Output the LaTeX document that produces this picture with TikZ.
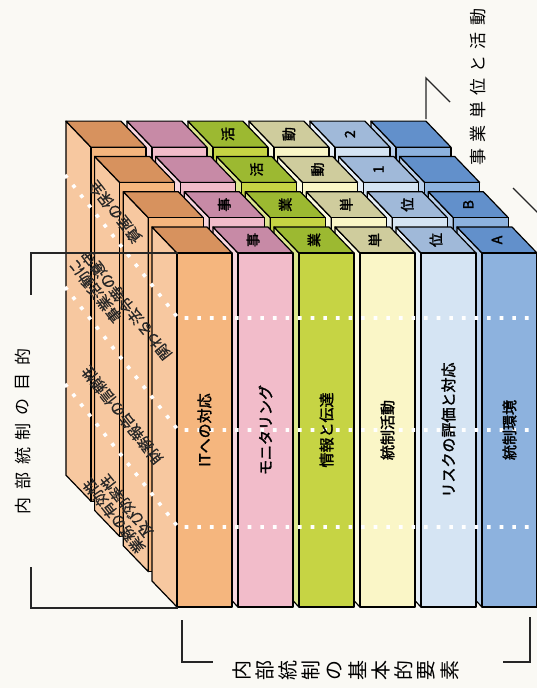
\documentclass[tikz,border=0pt]{standalone}
\usepackage{fontspec}
\setmainfont{Noto Sans CJK JP}
\newfontfamily\heavy{Noto Sans CJK JP}[FakeBold=2]
\newfontfamily\sidefont{Noto Sans CJK JP}[FakeBold=0.6]

\definecolor{paper}{HTML}{FAF9F4}
\definecolor{org}{HTML}{F5B67E}   \definecolor{orgtop}{HTML}{D7925E}   \definecolor{orgside}{HTML}{F7C8A0}
\definecolor{pnk}{HTML}{F2BCCA}   \definecolor{pnktop}{HTML}{C78AA6}   \definecolor{pnkside}{HTML}{F7D6DF}
\definecolor{grn}{HTML}{C6D444}   \definecolor{grntop}{HTML}{9CB931}   \definecolor{grnside}{HTML}{DDE68E}
\definecolor{yel}{HTML}{FAF6C7}   \definecolor{yeltop}{HTML}{CFCC9D}   \definecolor{yelside}{HTML}{FCFADF}
\definecolor{lbl}{HTML}{D5E4F3}   \definecolor{lbltop}{HTML}{A0B9D9}   \definecolor{lblside}{HTML}{E6EFF8}
\definecolor{blu}{HTML}{8DB2DE}   \definecolor{blutop}{HTML}{6290CB}   \definecolor{bluside}{HTML}{B9D0EC}

\tikzset{
  face/.style={draw=black, line width=1.2pt, line join=round},
  dots/.style={draw=white, line width=3.6pt, dash pattern=on 3.6pt off 9pt},
  bracket/.style={draw=black!85, line width=1.4pt},
  comp/.style={rotate=90, inner sep=0pt, font=\heavy\fontsize{15}{15}\selectfont},
  unit/.style={rotate=90, inner sep=0pt, font=\heavy\fontsize{14}{14}\selectfont},
  goal/.style={rotate=128.3, inner sep=0pt, text=black!85, font=\sidefont\fontsize{15}{16}\selectfont},
  headch/.style={rotate=90, inner sep=0pt, font=\fontsize{17}{17}\selectfont},
}

\begin{document}
\begin{tikzpicture}[x=1pt, y=-1pt]
  \fill[paper] (0,0) rectangle (537,688);
  \useasboundingbox (0,0) rectangle (537,688);

  % blocks, back layer first, right column first
  \foreach \k in {3,2,1,0} {
    \foreach \c/\i in {blu/5, lbl/4, yel/3, grn/2, pnk/1, org/0} {
      \pgfmathsetmacro\xa{177+61*\i-28.7*\k}
      \pgfmathsetmacro\ya{253-35.3*\k}
      \filldraw[face, fill=\c side] (\xa,\ya) -- ++(-25,-26) -- ++(0,354) -- ++(25,26) -- cycle;
      \filldraw[face, fill=\c top] (\xa,\ya) -- ++(-25,-26) -- ++(55,0) -- ++(25,26) -- cycle;
      \filldraw[face, fill=\c] (\xa,\ya) rectangle ++(55,354);
    }
  }

  % objective borders
  \foreach \y in {318,430,527} {
    \draw[dots] (65,\y-143) -- (178,\y) -- (537,\y);
  }

  % component labels
  \foreach \t [count=\i from 0] in {ITへの対応, モニタリング, 情報と伝達, 統制活動, リスクの評価と対応, 統制環境} {
    \node[comp] (comp\i) at ({204.5+61*\i}, 430) {\t};
  }

  % unit labels on the top faces
  \foreach \k/\i/\t in {0/1/事, 0/2/業, 0/3/単, 0/4/位, 0/5/A,
                        1/1/事, 1/2/業, 1/3/単, 1/4/位, 1/5/B,
                        2/2/活, 2/3/動, 2/4/1,
                        3/2/活, 3/3/動, 3/4/2} {
    \node[unit] (unit\k\i) at ({192+61*\i-28.7*\k}, {240-35.3*\k}) {\t};
  }

  % objective labels on the side
  \node[goal] (asset) at (115,212) {資産の保全};
  \node[goal, align=right] (law) at (120,310) {事業活動に\\関わる法令等の遵守};
  \node[goal] (report) at (122,415) {財務報告の信頼性};
  \node[goal, align=center] (ops) at (120,511) {業務の有効性\\及び効率性};

  % brackets
  \coordinate (topL) at (178,253);
  \coordinate (botL) at (178,608);
  \draw[bracket] (topL) -- (31,253) -- (31,295);
  \draw[bracket] (31,567) -- (31,608) -- (botL);
  \draw[bracket] (182,620) -- (182,662) -- (213,662);
  \draw[bracket] (503,662) -- (530,662) -- (530,617);
  \coordinate (backR) at (426,119);
  \draw[bracket] (backR) -- (426,78) -- (450,102);
  \draw[bracket] (513,188) -- (540,215);

  % bracket captions
  \foreach \c [count=\n from 0] in {内,部,統,制,の,目,的} {
    \node[headch] (aim\n) at (23, 506-24.8*\n) {\c};
  }
  \foreach \c [count=\n from 0] in {内,部,統,制,の,基,本,的,要,素} {
    \node[headch, font=\fontsize{20}{20}\selectfont] (elem\n) at (242+23.1*\n, 670) {\c};
  }
  \foreach \c [count=\n from 0] in {事,業,単,位,と,活,動} {
    \node[headch] (act\n) at (478, 157-23.3*\n) {\c};
  }
\end{tikzpicture}
\end{document}
